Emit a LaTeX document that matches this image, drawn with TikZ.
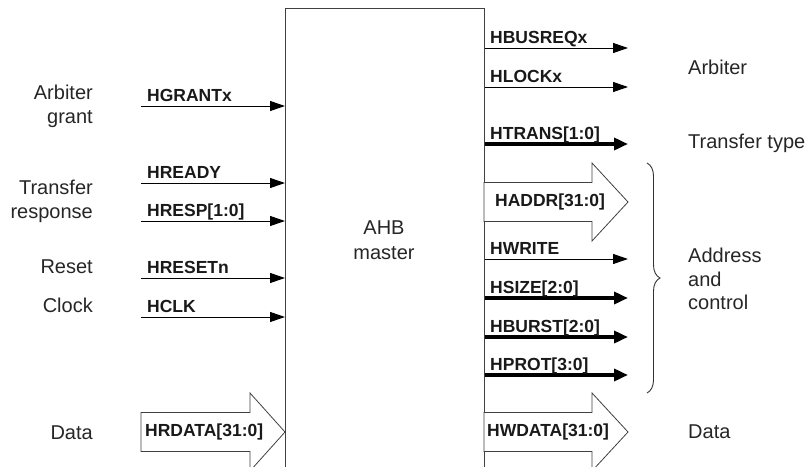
\documentclass[tikz,border=0pt]{standalone}
\usepackage{fontspec}
\setmainfont{Liberation Sans}
\usetikzlibrary{arrows.meta,decorations.pathreplacing}
\begin{document}
\begin{tikzpicture}[x=1pt,y=-1pt,
  sig/.style={draw=black, line width=1pt, -{Triangle[length=15pt,width=10pt]}},
  bus/.style={draw=black, line width=4pt, -{Triangle[length=14pt,width=12pt]}},
  lbl/.style={font=\bfseries\fontsize{17.5}{20}\selectfont, anchor=base west, inner sep=0pt, text=black!90},
  txt/.style={font=\fontsize{20}{23.5}\selectfont, inner sep=0pt, text=black!85},
  fat/.style={draw=black!75, line width=0.8pt, fill=white},
  brc/.style={draw=black!80, line width=0.9pt, decorate, decoration={brace, amplitude=13pt, aspect=0.5}}
]
\useasboundingbox (0,0) rectangle (806,466);
\clip (0,0) rectangle (806,466);

% master block
\node (box) [draw=black!75, line width=1pt, rectangle, minimum width=199pt, minimum height=520pt, anchor=north west, inner sep=0pt] at (285,8) {};
\node (ahb) [txt, align=center, font=\fontsize{20}{25}\selectfont] at (384,240) {AHB\\master};

% left inputs
\coordinate (ig) at (141,106);
\coordinate (ir) at (141,183);
\coordinate (ip) at (141,221);
\coordinate (is) at (141,278);
\coordinate (ic) at (141,317);
\draw[sig] (ig) -- (ig -| box.west);
\draw[sig] (ir) -- (ir -| box.west);
\draw[sig] (ip) -- (ip -| box.west);
\draw[sig] (is) -- (is -| box.west);
\draw[sig] (ic) -- (ic -| box.west);
\node[lbl] (lg) at (147,101.5) {HGRANTx};
\node[lbl] (lr) at (147,178.5) {HREADY};
\node[lbl] (lp) at (147,216.5) {HRESP[1:0]};
\node[lbl] (ls) at (147,273.5) {HRESETn};
\node[lbl] (lc) at (147,312.5) {HCLK};

% HRDATA wide arrow
\draw[fat] (141,412.5) -- (250,412.5) -- (250,393) -- (285,432) -- (250,471) -- (250,451.5) -- (141,451.5) -- cycle;
\node[lbl, anchor=west] (lrd) at (145,432) {HRDATA[31:0]};

% left descriptions
\node[txt, anchor=east, align=right] (dg) at (93,106.5) {Arbiter\\grant};
\node[txt, anchor=east, align=right] (dt) at (93,201.5) {Transfer\\response};
\node[txt, anchor=east] (dr) at (93,267) {Reset};
\node[txt, anchor=east] (dc) at (93,305) {Clock};
\node[txt, anchor=east] (dd) at (93,433) {Data};

% right outputs
\coordinate (ob) at (628,48);
\coordinate (ol) at (628,87);
\coordinate (ot) at (628,144);
\coordinate (ow) at (628,259);
\coordinate (os) at (628,298);
\coordinate (ou) at (628,337);
\coordinate (op) at (628,375);
\draw[sig] (ob -| box.east) -- (ob);
\draw[sig] (ol -| box.east) -- (ol);
\draw[bus] (ot -| box.east) -- (ot);
\draw[sig] (ow -| box.east) -- (ow);
\draw[bus] (os -| box.east) -- (os);
\draw[bus] (ou -| box.east) -- (ou);
\draw[bus] (op -| box.east) -- (op);
\node[lbl] (lb) at (490,43.5) {HBUSREQx};
\node[lbl] (ll) at (490,82.5) {HLOCKx};
\node[lbl] (lt) at (490,139) {HTRANS[1:0]};
\node[lbl] (lw) at (490,254.5) {HWRITE};
\node[lbl] (lsz) at (490,293) {HSIZE[2:0]};
\node[lbl] (lu) at (490,332) {HBURST[2:0]};
\node[lbl] (lpr) at (490,370) {HPROT[3:0]};

% HADDR and HWDATA wide arrows
\draw[fat] (484,182.5) -- (592,182.5) -- (592,163) -- (628,202) -- (592,241) -- (592,221.5) -- (484,221.5) -- cycle;
\node[lbl, anchor=west] (la) at (495,202) {HADDR[31:0]};
\draw[fat] (484,412.5) -- (592,412.5) -- (592,393) -- (628,432) -- (592,471) -- (592,451.5) -- (484,451.5) -- cycle;
\node[lbl, anchor=west] (lwd) at (487,432) {HWDATA[31:0]};

% brace
\coordinate (bt) at (647,163);
\coordinate (bb) at (647,393);
\draw[brc] (bt) -- (bb);

% right descriptions
\node[txt, anchor=west] (ra) at (688,67) {Arbiter};
\node[txt, anchor=west] (rt) at (688,143) {Transfer type};
\node[txt, anchor=west, align=left] (rc) at (688,279) {Address\\and\\control};
\node[txt, anchor=west] (rd) at (688,432) {Data};
\end{tikzpicture}
\end{document}
